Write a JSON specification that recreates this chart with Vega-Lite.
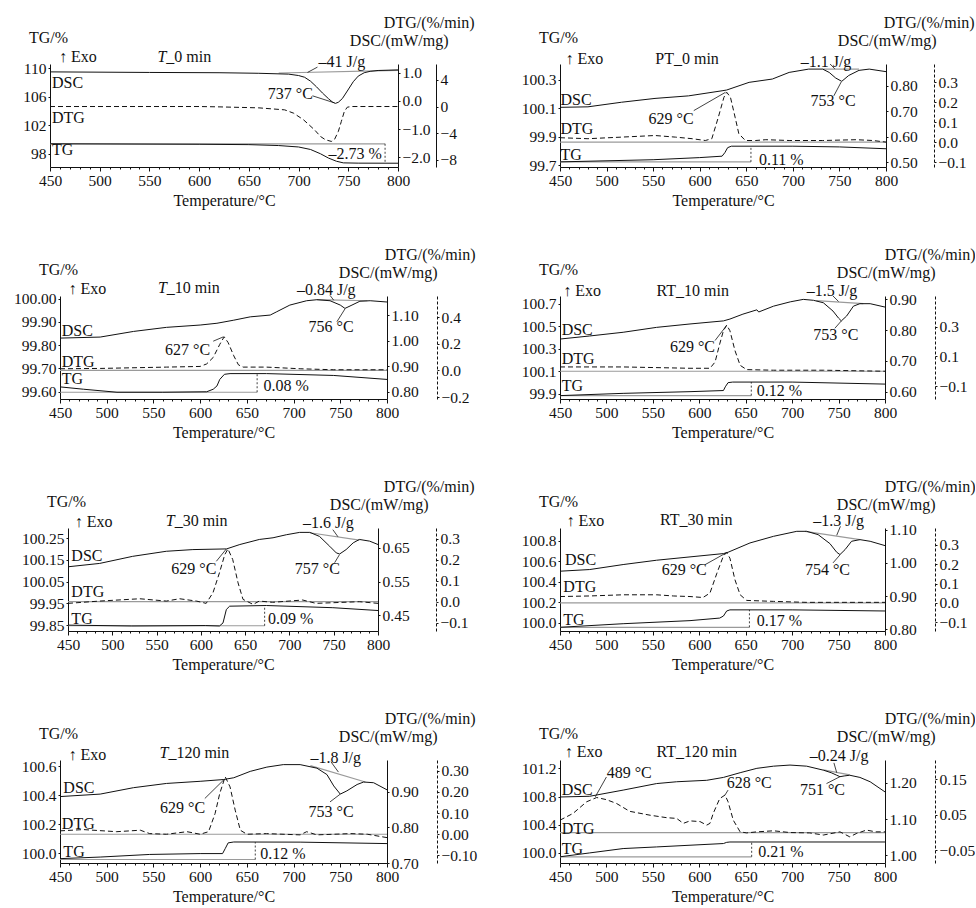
{
  "$schema": "https://vega.github.io/schema/vega-lite/v6.json",
  "background": "white",
  "padding": {"left": 13, "top": 14, "right": 0, "bottom": 0},
  "config": {
    "font": "Liberation Serif",
    "view": {"stroke": null},
    "axis": {"labelFont": "Liberation Serif", "labelFontSize": 15.5, "titleFont": "Liberation Serif", "titleFontSize": 16, "titleFontWeight": "normal", "labelColor": "#111", "titleColor": "#111", "domainColor": "#111", "tickColor": "#111", "grid": false, "labelFlush": false, "labelOverlap": false},
    "axisBottom": {"labelPadding": 2, "titlePadding": 4, "labelExpr": "datum.value % 50 === 0 ? datum.label : ''", "tickSize": {"condition": {"test": "datum.value % 50 === 0", "value": 4}, "value": 2}},
    "axisLeft": {"tickSize": 2, "labelPadding": 2, "titleAngle": 0, "titleX": -2, "titleY": -27, "titleAlign": "center", "titleBaseline": "middle"},
    "axisRight": {"tickSize": 2, "labelPadding": 2, "titleAngle": 0, "titleX": 50, "titleY": -24, "titleAlign": "right", "titleBaseline": "middle"},
    "text": {"font": "Liberation Serif", "fontSize": 16, "baseline": "middle", "color": "#111"},
    "line": {"color": "#111", "strokeWidth": 1}
  },
  "datasets": {
    "p1": [
      {"s":"TG","T":450,"v":99.4},{"s":"TG","T":600,"v":99.33},{"s":"TG","T":650,"v":99.28},{"s":"TG","T":680,"v":99.15},{"s":"TG","T":700,"v":98.95},{"s":"TG","T":712,"v":98.6},{"s":"TG","T":722,"v":98.0},{"s":"TG","T":730,"v":97.4},{"s":"TG","T":738,"v":96.95},{"s":"TG","T":745,"v":96.72},{"s":"TG","T":760,"v":96.68},{"s":"TG","T":800,"v":96.67},
      {"s":"TGref","g":1,"T":450,"v":99.4},{"s":"TGref","g":1,"T":787,"v":99.4},
      {"s":"TGdim","T":787,"v":99.4},{"s":"TGdim","T":787,"v":96.67},
      {"s":"TGtxt","T":452,"v":98.57,"text":"TG"},{"s":"TGtxt","T":730,"v":97.97,"text":"–2.73 %"},{"s":"TGtxt","T":459,"v":111.65,"text":"↑ Exo"},{"s":"TGtxt","T":567,"v":111.65,"text":"_0 min"},{"s":"TGit","T":567,"v":111.65,"text":"T"},
      {"s":"DSC","T":450,"v":1.03},{"s":"DSC","T":550,"v":1.01},{"s":"DSC","T":620,"v":1.0},{"s":"DSC","T":660,"v":0.98},{"s":"DSC","T":690,"v":0.95},{"s":"DSC","T":700,"v":0.9},{"s":"DSC","T":706,"v":0.84},{"s":"DSC","T":712,"v":0.7},{"s":"DSC","T":718,"v":0.5},{"s":"DSC","T":724,"v":0.28},{"s":"DSC","T":730,"v":0.08},{"s":"DSC","T":734,"v":-0.04},{"s":"DSC","T":737,"v":-0.09},{"s":"DSC","T":740,"v":-0.05},{"s":"DSC","T":744,"v":0.08},{"s":"DSC","T":749,"v":0.35},{"s":"DSC","T":755,"v":0.68},{"s":"DSC","T":760,"v":0.88},{"s":"DSC","T":766,"v":1.0},{"s":"DSC","T":772,"v":1.05},{"s":"DSC","T":780,"v":1.08},{"s":"DSC","T":790,"v":1.09},{"s":"DSC","T":800,"v":1.1},
      {"s":"DSCbase","T":680,"v":0.99},{"s":"DSCbase","T":800,"v":1.08},
      {"s":"DSCld","g":1,"T":714,"v":0.18},{"s":"DSCld","g":1,"T":736,"v":-0.07},{"s":"DSCld","g":2,"T":709,"v":1.01},{"s":"DSCld","g":2,"T":719,"v":1.2},
      {"s":"DSCtxt","T":452,"v":0.65,"text":"DSC"},{"s":"DSCtxt","T":669,"v":0.23,"text":"737 °C"},{"s":"DSCtxt","T":720,"v":1.39,"text":"–41 J/g"},
      {"s":"DTG","T":450,"v":0},{"s":"DTG","T":600,"v":0},{"s":"DTG","T":620,"v":-0.05},{"s":"DTG","T":660,"v":-0.2},{"s":"DTG","T":686,"v":-0.5},{"s":"DTG","T":695,"v":-1.0},{"s":"DTG","T":705,"v":-2.0},{"s":"DTG","T":716,"v":-3.5},{"s":"DTG","T":722,"v":-4.5},{"s":"DTG","T":727,"v":-5.0},{"s":"DTG","T":733,"v":-5.25},{"s":"DTG","T":736,"v":-5.0},{"s":"DTG","T":740,"v":-3.75},{"s":"DTG","T":743,"v":-2.25},{"s":"DTG","T":746,"v":-0.75},{"s":"DTG","T":749,"v":-0.1},{"s":"DTG","T":753,"v":0},{"s":"DTG","T":800,"v":0},
      {"s":"DTGtxt","T":452,"v":-1.75,"text":"DTG"}
    ],
    "p2": [
      {"s":"TG","T":450,"v":99.725},{"s":"TG","T":550,"v":99.74},{"s":"TG","T":600,"v":99.755},{"s":"TG","T":624,"v":99.765},{"s":"TG","T":627,"v":99.79},{"s":"TG","T":630,"v":99.825},{"s":"TG","T":634,"v":99.835},{"s":"TG","T":700,"v":99.835},{"s":"TG","T":750,"v":99.83},{"s":"TG","T":800,"v":99.817},
      {"s":"TGref","g":1,"T":450,"v":99.725},{"s":"TGref","g":1,"T":655,"v":99.725},
      {"s":"TGdim","T":655,"v":99.725},{"s":"TGdim","T":655,"v":99.835},
      {"s":"TGtxt","T":450.5,"v":99.77,"text":"TG"},{"s":"TGtxt","T":663.6,"v":99.736,"text":"0.11 %"},{"s":"TGtxt","T":456,"v":100.45,"text":"↑ Exo"},{"s":"TGtxt","T":552.3,"v":100.45,"text":"PT_0 min"},
      {"s":"DSC","T":450,"v":0.715},{"s":"DSC","T":480,"v":0.717},{"s":"DSC","T":516,"v":0.735},{"s":"DSC","T":552,"v":0.75},{"s":"DSC","T":588,"v":0.76},{"s":"DSC","T":624,"v":0.78},{"s":"DSC","T":629,"v":0.783},{"s":"DSC","T":653,"v":0.813},{"s":"DSC","T":678,"v":0.826},{"s":"DSC","T":696,"v":0.852},{"s":"DSC","T":717,"v":0.865},{"s":"DSC","T":732,"v":0.865},{"s":"DSC","T":739,"v":0.852},{"s":"DSC","T":746,"v":0.83},{"s":"DSC","T":752.5,"v":0.817},{"s":"DSC","T":760,"v":0.84},{"s":"DSC","T":771,"v":0.86},{"s":"DSC","T":782,"v":0.865},{"s":"DSC","T":800,"v":0.855},
      {"s":"DSCbase","T":732,"v":0.865},{"s":"DSCbase","T":771,"v":0.865},
      {"s":"DSCld","g":1,"T":744,"v":0.76},{"s":"DSCld","g":1,"T":752,"v":0.815},{"s":"DSCld","g":2,"T":745,"v":0.866},{"s":"DSCld","g":2,"T":740,"v":0.885},
      {"s":"DSCtxt","T":450.5,"v":0.744,"text":"DSC"},{"s":"DSCtxt","T":719,"v":0.741,"text":"753 °C"},{"s":"DSCtxt","T":708.4,"v":0.893,"text":"–1.1 J/g"},
      {"s":"DTG","T":450,"v":0.022},{"s":"DTG","T":480,"v":0.017},{"s":"DTG","T":516,"v":0.025},{"s":"DTG","T":552,"v":0.033},{"s":"DTG","T":574,"v":0.025},{"s":"DTG","T":592,"v":0.017},{"s":"DTG","T":606,"v":0.008},{"s":"DTG","T":613,"v":0.017},{"s":"DTG","T":620,"v":0.125},{"s":"DTG","T":626,"v":0.225},{"s":"DTG","T":629,"v":0.25},{"s":"DTG","T":633,"v":0.225},{"s":"DTG","T":638,"v":0.125},{"s":"DTG","T":642,"v":0.042},{"s":"DTG","T":649,"v":0.008},{"s":"DTG","T":660,"v":0.008},{"s":"DTG","T":671,"v":0.012},{"s":"DTG","T":696,"v":0.008},{"s":"DTG","T":732,"v":0.008},{"s":"DTG","T":768,"v":0.012},{"s":"DTG","T":786,"v":0.008},{"s":"DTG","T":800,"v":0.0},
      {"s":"DTG0","T":450,"v":0},{"s":"DTG0","T":800,"v":0},
      {"s":"DTGld","T":593.6,"v":0.158},{"s":"DTGld","T":627.7,"v":0.25},
      {"s":"DTGtxt","T":450.5,"v":0.067,"text":"DTG"},{"s":"DTGtxt","T":545.1,"v":0.117,"text":"629 °C"}
    ],
    "p3": [
      {"s":"TG","T":450,"v":99.621},{"s":"TG","T":475,"v":99.611},{"s":"TG","T":511,"v":99.598},{"s":"TG","T":560,"v":99.598},{"s":"TG","T":607,"v":99.6},{"s":"TG","T":614,"v":99.611},{"s":"TG","T":618,"v":99.625},{"s":"TG","T":621,"v":99.653},{"s":"TG","T":626,"v":99.675},{"s":"TG","T":632,"v":99.678},{"s":"TG","T":671,"v":99.678},{"s":"TG","T":743,"v":99.67},{"s":"TG","T":800,"v":99.653},
      {"s":"TGref","g":1,"T":450,"v":99.598},{"s":"TGref","g":1,"T":661,"v":99.598},
      {"s":"TGdim","T":661,"v":99.598},{"s":"TGdim","T":661,"v":99.678},
      {"s":"TGtxt","T":451.8,"v":99.654,"text":"TG"},{"s":"TGtxt","T":667.9,"v":99.625,"text":"0.08 %"},{"s":"TGtxt","T":459,"v":100.04,"text":"↑ Exo"},{"s":"TGtxt","T":564.3,"v":100.045,"text":"_10 min"},{"s":"TGit","T":564.3,"v":100.045,"text":"T"},
      {"s":"DSC","T":450,"v":1.01},{"s":"DSC","T":493,"v":1.014},{"s":"DSC","T":528.6,"v":1.036},{"s":"DSC","T":564,"v":1.052},{"s":"DSC","T":600,"v":1.061},{"s":"DSC","T":618,"v":1.068},{"s":"DSC","T":636,"v":1.08},{"s":"DSC","T":653.6,"v":1.093},{"s":"DSC","T":675,"v":1.1},{"s":"DSC","T":682,"v":1.113},{"s":"DSC","T":696,"v":1.139},{"s":"DSC","T":714,"v":1.156},{"s":"DSC","T":725,"v":1.16},{"s":"DSC","T":739,"v":1.156},{"s":"DSC","T":750,"v":1.139},{"s":"DSC","T":755,"v":1.126},{"s":"DSC","T":762.5,"v":1.139},{"s":"DSC","T":771,"v":1.154},{"s":"DSC","T":782,"v":1.156},{"s":"DSC","T":800,"v":1.151},
      {"s":"DSCbase","T":725,"v":1.16},{"s":"DSCbase","T":779,"v":1.156},
      {"s":"DSCld","g":1,"T":746.4,"v":1.074},{"s":"DSCld","g":1,"T":755,"v":1.124},{"s":"DSCld","g":2,"T":743,"v":1.158},{"s":"DSCld","g":2,"T":739,"v":1.177},
      {"s":"DSCtxt","T":451.8,"v":1.036,"text":"DSC"},{"s":"DSCtxt","T":716,"v":1.055,"text":"756 °C"},{"s":"DSCtxt","T":703.6,"v":1.197,"text":"–0.84 J/g"},
      {"s":"DTG","T":450,"v":0.0125},{"s":"DTG","T":493,"v":0.015},{"s":"DTG","T":564,"v":0.025},{"s":"DTG","T":600,"v":0.03},{"s":"DTG","T":607,"v":0.049},{"s":"DTG","T":614,"v":0.098},{"s":"DTG","T":621,"v":0.196},{"s":"DTG","T":625.7,"v":0.253},{"s":"DTG","T":630,"v":0.209},{"s":"DTG","T":636,"v":0.11},{"s":"DTG","T":641,"v":0.042},{"s":"DTG","T":646,"v":0.025},{"s":"DTG","T":671,"v":0.025},{"s":"DTG","T":707,"v":0.0125},{"s":"DTG","T":743,"v":0.005},{"s":"DTG","T":800,"v":0.005},
      {"s":"DTG0","T":450,"v":0},{"s":"DTG0","T":800,"v":0},
      {"s":"DTGld","T":614,"v":0.22},{"s":"DTGld","T":625,"v":0.253},
      {"s":"DTGtxt","T":451.8,"v":0.062,"text":"DTG"},{"s":"DTGtxt","T":562.5,"v":0.154,"text":"627 °C"}
    ],
    "p4": [
      {"s":"TG","T":450,"v":99.885},{"s":"TG","T":518,"v":99.905},{"s":"TG","T":590,"v":99.92},{"s":"TG","T":626,"v":99.93},{"s":"TG","T":628,"v":99.963},{"s":"TG","T":631,"v":100.0},{"s":"TG","T":636,"v":100.005},{"s":"TG","T":700,"v":100.005},{"s":"TG","T":800,"v":99.987},
      {"s":"TGref","g":1,"T":450,"v":99.885},{"s":"TGref","g":1,"T":656,"v":99.885},
      {"s":"TGdim","T":656,"v":99.885},{"s":"TGdim","T":656,"v":100.005},
      {"s":"TGtxt","T":451.8,"v":99.969,"text":"TG"},{"s":"TGtxt","T":661.8,"v":99.928,"text":"0.12 %"},{"s":"TGtxt","T":453.6,"v":100.81,"text":"↑ Exo"},{"s":"TGtxt","T":554,"v":100.81,"text":"RT_10 min"},
      {"s":"DSC","T":450,"v":0.771},{"s":"DSC","T":482,"v":0.781},{"s":"DSC","T":518,"v":0.793},{"s":"DSC","T":554,"v":0.809},{"s":"DSC","T":590,"v":0.82},{"s":"DSC","T":626,"v":0.83},{"s":"DSC","T":633,"v":0.836},{"s":"DSC","T":647,"v":0.852},{"s":"DSC","T":662,"v":0.866},{"s":"DSC","T":664,"v":0.859},{"s":"DSC","T":680,"v":0.878},{"s":"DSC","T":698,"v":0.892},{"s":"DSC","T":712,"v":0.9},{"s":"DSC","T":723,"v":0.897},{"s":"DSC","T":733.6,"v":0.889},{"s":"DSC","T":744,"v":0.862},{"s":"DSC","T":750,"v":0.839},{"s":"DSC","T":753,"v":0.83},{"s":"DSC","T":758.7,"v":0.846},{"s":"DSC","T":766,"v":0.878},{"s":"DSC","T":773,"v":0.886},{"s":"DSC","T":784,"v":0.886},{"s":"DSC","T":800,"v":0.875},
      {"s":"DSCbase","T":726,"v":0.896},{"s":"DSCbase","T":776.6,"v":0.886},
      {"s":"DSCld","g":1,"T":746,"v":0.806},{"s":"DSCld","g":1,"T":753,"v":0.83},{"s":"DSCld","g":2,"T":750,"v":0.893},{"s":"DSCld","g":2,"T":744,"v":0.911},
      {"s":"DSCtxt","T":451.8,"v":0.8,"text":"DSC"},{"s":"DSCtxt","T":722.8,"v":0.785,"text":"753 °C"},{"s":"DSCtxt","T":715.6,"v":0.927,"text":"–1.5 J/g"},
      {"s":"DTG","T":450,"v":0.029},{"s":"DTG","T":518,"v":0.029},{"s":"DTG","T":590,"v":0.02},{"s":"DTG","T":611.5,"v":0.02},{"s":"DTG","T":617,"v":0.062},{"s":"DTG","T":622,"v":0.184},{"s":"DTG","T":626,"v":0.273},{"s":"DTG","T":629.5,"v":0.311},{"s":"DTG","T":633,"v":0.273},{"s":"DTG","T":638.4,"v":0.14},{"s":"DTG","T":644,"v":0.04},{"s":"DTG","T":651,"v":0.011},{"s":"DTG","T":680,"v":0.007},{"s":"DTG","T":734,"v":0.007},{"s":"DTG","T":800,"v":0.0},
      {"s":"DTG0","T":450,"v":0},{"s":"DTG0","T":800,"v":0},
      {"s":"DTGld","T":617,"v":0.207},{"s":"DTGld","T":629,"v":0.305},
      {"s":"DTGtxt","T":451.8,"v":0.085,"text":"DTG"},{"s":"DTGtxt","T":568.4,"v":0.162,"text":"629 °C"}
    ],
    "p5": [
      {"s":"TG","T":450,"v":99.85},{"s":"TG","T":522,"v":99.846},{"s":"TG","T":605,"v":99.848},{"s":"TG","T":621,"v":99.846},{"s":"TG","T":625,"v":99.86},{"s":"TG","T":628.8,"v":99.922},{"s":"TG","T":632.5,"v":99.937},{"s":"TG","T":674,"v":99.94},{"s":"TG","T":749,"v":99.93},{"s":"TG","T":800,"v":99.917},
      {"s":"TGref","g":1,"T":450,"v":99.847},{"s":"TGref","g":1,"T":672,"v":99.847},
      {"s":"TGdim","T":672,"v":99.847},{"s":"TGdim","T":672,"v":99.937},
      {"s":"TGtxt","T":453.8,"v":99.877,"text":"TG"},{"s":"TGtxt","T":675.8,"v":99.876,"text":"0.09 %"},{"s":"TGtxt","T":457.5,"v":100.325,"text":"↑ Exo"},{"s":"TGtxt","T":570.4,"v":100.33,"text":"_30 min"},{"s":"TGit","T":570.4,"v":100.33,"text":"T"},
      {"s":"DSC","T":450,"v":0.594},{"s":"DSC","T":485.8,"v":0.604},{"s":"DSC","T":523,"v":0.625},{"s":"DSC","T":561,"v":0.64},{"s":"DSC","T":591,"v":0.645},{"s":"DSC","T":629,"v":0.647},{"s":"DSC","T":644,"v":0.66},{"s":"DSC","T":666,"v":0.675},{"s":"DSC","T":681.5,"v":0.68},{"s":"DSC","T":696.5,"v":0.689},{"s":"DSC","T":711.6,"v":0.696},{"s":"DSC","T":723,"v":0.696},{"s":"DSC","T":734,"v":0.684},{"s":"DSC","T":745.4,"v":0.655},{"s":"DSC","T":753,"v":0.635},{"s":"DSC","T":756.7,"v":0.632},{"s":"DSC","T":764,"v":0.645},{"s":"DSC","T":772,"v":0.665},{"s":"DSC","T":779,"v":0.675},{"s":"DSC","T":790.6,"v":0.67},{"s":"DSC","T":800,"v":0.66},
      {"s":"DSCbase","T":723,"v":0.695},{"s":"DSCbase","T":779,"v":0.673},
      {"s":"DSCld","g":1,"T":751,"v":0.606},{"s":"DSCld","g":1,"T":756.5,"v":0.63},{"s":"DSCld","g":2,"T":754.8,"v":0.683},{"s":"DSCld","g":2,"T":749,"v":0.704},
      {"s":"DSCtxt","T":453.8,"v":0.625,"text":"DSC"},{"s":"DSCtxt","T":706,"v":0.586,"text":"757 °C"},{"s":"DSCtxt","T":715.3,"v":0.724,"text":"–1.6 J/g"},
      {"s":"DTG","T":450,"v":-0.008},{"s":"DTG","T":485.8,"v":0.003},{"s":"DTG","T":531,"v":0.014},{"s":"DTG","T":561,"v":0.003},{"s":"DTG","T":576,"v":0.014},{"s":"DTG","T":595,"v":0.003},{"s":"DTG","T":606,"v":-0.008},{"s":"DTG","T":613.7,"v":0.043},{"s":"DTG","T":621,"v":0.138},{"s":"DTG","T":627,"v":0.225},{"s":"DTG","T":630.6,"v":0.252},{"s":"DTG","T":636,"v":0.201},{"s":"DTG","T":642,"v":0.09},{"s":"DTG","T":647.6,"v":0.011},{"s":"DTG","T":659,"v":-0.013},{"s":"DTG","T":666,"v":0.003},{"s":"DTG","T":681,"v":-0.003},{"s":"DTG","T":715,"v":0.008},{"s":"DTG","T":730,"v":-0.008},{"s":"DTG","T":779,"v":0.0},{"s":"DTG","T":800,"v":-0.008},
      {"s":"DTG0","T":450,"v":0},{"s":"DTG0","T":800,"v":0},
      {"s":"DTGld","T":617.5,"v":0.193},{"s":"DTGld","T":628.8,"v":0.252},
      {"s":"DTGtxt","T":453.8,"v":0.046,"text":"DTG"},{"s":"DTGtxt","T":566.7,"v":0.154,"text":"629 °C"}
    ],
    "p6": [
      {"s":"TG","T":450,"v":99.955},{"s":"TG","T":518,"v":99.99},{"s":"TG","T":590,"v":100.02},{"s":"TG","T":622,"v":100.045},{"s":"TG","T":626,"v":100.065},{"s":"TG","T":629.5,"v":100.114},{"s":"TG","T":633,"v":100.125},{"s":"TG","T":700,"v":100.125},{"s":"TG","T":800,"v":100.114},
      {"s":"TGref","g":1,"T":450,"v":99.955},{"s":"TGref","g":1,"T":654,"v":99.955},
      {"s":"TGdim","T":654,"v":99.955},{"s":"TGdim","T":654,"v":100.125},
      {"s":"TGtxt","T":453.6,"v":100.03,"text":"TG"},{"s":"TGtxt","T":661.8,"v":100.017,"text":"0.17 %"},{"s":"TGtxt","T":457,"v":100.99,"text":"↑ Exo"},{"s":"TGtxt","T":557.7,"v":101.0,"text":"RT_30 min"},
      {"s":"DSC","T":450,"v":0.975},{"s":"DSC","T":482,"v":0.98},{"s":"DSC","T":518,"v":0.995},{"s":"DSC","T":554,"v":1.008},{"s":"DSC","T":590,"v":1.018},{"s":"DSC","T":626,"v":1.028},{"s":"DSC","T":631,"v":1.032},{"s":"DSC","T":654.6,"v":1.06},{"s":"DSC","T":680,"v":1.08},{"s":"DSC","T":705,"v":1.095},{"s":"DSC","T":715.6,"v":1.095},{"s":"DSC","T":728,"v":1.085},{"s":"DSC","T":740.7,"v":1.058},{"s":"DSC","T":748,"v":1.032},{"s":"DSC","T":751.5,"v":1.025},{"s":"DSC","T":757,"v":1.04},{"s":"DSC","T":764,"v":1.065},{"s":"DSC","T":773,"v":1.07},{"s":"DSC","T":784,"v":1.065},{"s":"DSC","T":800,"v":1.052},
      {"s":"DSCbase","T":714,"v":1.095},{"s":"DSCbase","T":773,"v":1.07},
      {"s":"DSCld","g":1,"T":744,"v":1.0},{"s":"DSCld","g":1,"T":751.5,"v":1.024},{"s":"DSCld","g":2,"T":748,"v":1.083},{"s":"DSCld","g":2,"T":752,"v":1.11},
      {"s":"DSCtxt","T":455.4,"v":1.01,"text":"DSC"},{"s":"DSCtxt","T":713.8,"v":0.98,"text":"754 °C"},{"s":"DSCtxt","T":722.8,"v":1.125,"text":"–1.3 J/g"},
      {"s":"DTG","T":450,"v":0.033},{"s":"DTG","T":482,"v":0.036},{"s":"DTG","T":518,"v":0.042},{"s":"DTG","T":554,"v":0.042},{"s":"DTG","T":572,"v":0.036},{"s":"DTG","T":590,"v":0.033},{"s":"DTG","T":604,"v":0.028},{"s":"DTG","T":611.5,"v":0.051},{"s":"DTG","T":619,"v":0.154},{"s":"DTG","T":626,"v":0.243},{"s":"DTG","T":629.5,"v":0.26},{"s":"DTG","T":633,"v":0.231},{"s":"DTG","T":638.4,"v":0.12},{"s":"DTG","T":644,"v":0.042},{"s":"DTG","T":651,"v":0.013},{"s":"DTG","T":680,"v":0.008},{"s":"DTG","T":715,"v":0.003},{"s":"DTG","T":800,"v":0.003},
      {"s":"DTG0","T":450,"v":0},{"s":"DTG0","T":800,"v":0},
      {"s":"DTGld","T":606,"v":0.197},{"s":"DTGld","T":629.5,"v":0.26},
      {"s":"DTGtxt","T":453.6,"v":0.082,"text":"DTG"},{"s":"DTGtxt","T":559.5,"v":0.171,"text":"629 °C"}
    ],
    "p7": [
      {"s":"TG","T":450,"v":99.961},{"s":"TG","T":493,"v":99.972},{"s":"TG","T":546,"v":99.99},{"s":"TG","T":600,"v":99.996},{"s":"TG","T":624,"v":99.996},{"s":"TG","T":626.8,"v":100.03},{"s":"TG","T":630,"v":100.07},{"s":"TG","T":636,"v":100.076},{"s":"TG","T":707,"v":100.075},{"s":"TG","T":800,"v":100.065},
      {"s":"TGref","g":1,"T":450,"v":99.955},{"s":"TGref","g":1,"T":659,"v":99.955},
      {"s":"TGdim","T":659,"v":99.955},{"s":"TGdim","T":659,"v":100.075},
      {"s":"TGtxt","T":453.6,"v":100.007,"text":"TG"},{"s":"TGtxt","T":664.3,"v":99.996,"text":"0.12 %"},{"s":"TGtxt","T":459,"v":100.675,"text":"↑ Exo"},{"s":"TGtxt","T":566,"v":100.69,"text":"_120 min"},{"s":"TGit","T":566,"v":100.69,"text":"T"},
      {"s":"DSC","T":450,"v":0.887},{"s":"DSC","T":493,"v":0.894},{"s":"DSC","T":528.6,"v":0.912},{"s":"DSC","T":564,"v":0.924},{"s":"DSC","T":600,"v":0.93},{"s":"DSC","T":625,"v":0.935},{"s":"DSC","T":636,"v":0.94},{"s":"DSC","T":653.6,"v":0.958},{"s":"DSC","T":671.4,"v":0.97},{"s":"DSC","T":689,"v":0.977},{"s":"DSC","T":707,"v":0.977},{"s":"DSC","T":725,"v":0.967},{"s":"DSC","T":735.7,"v":0.949},{"s":"DSC","T":743,"v":0.917},{"s":"DSC","T":750,"v":0.894},{"s":"DSC","T":757,"v":0.903},{"s":"DSC","T":768,"v":0.921},{"s":"DSC","T":775,"v":0.928},{"s":"DSC","T":785.7,"v":0.926},{"s":"DSC","T":800,"v":0.906},
      {"s":"DSCbase","T":718,"v":0.974},{"s":"DSCbase","T":776.8,"v":0.928},
      {"s":"DSCld","g":1,"T":739,"v":0.872},{"s":"DSCld","g":1,"T":750,"v":0.894},{"s":"DSCld","g":2,"T":740,"v":0.985},{"s":"DSCld","g":2,"T":748,"v":0.956},
      {"s":"DSCtxt","T":453.6,"v":0.912,"text":"DSC"},{"s":"DSCtxt","T":716,"v":0.845,"text":"753 °C"},{"s":"DSCtxt","T":718,"v":0.995,"text":"–1.8 J/g"},
      {"s":"DTG","T":450,"v":0.016},{"s":"DTG","T":475,"v":0.022},{"s":"DTG","T":510.7,"v":0.012},{"s":"DTG","T":536,"v":0.019},{"s":"DTG","T":546,"v":0.003},{"s":"DTG","T":564,"v":0.0},{"s":"DTG","T":586,"v":0.012},{"s":"DTG","T":600,"v":0.0},{"s":"DTG","T":609,"v":0.012},{"s":"DTG","T":616,"v":0.098},{"s":"DTG","T":621,"v":0.193},{"s":"DTG","T":626.8,"v":0.272},{"s":"DTG","T":632,"v":0.224},{"s":"DTG","T":637.5,"v":0.114},{"s":"DTG","T":643,"v":0.019},{"s":"DTG","T":650,"v":0.0},{"s":"DTG","T":671,"v":0.003},{"s":"DTG","T":707,"v":-0.003},{"s":"DTG","T":714,"v":0.012},{"s":"DTG","T":725,"v":-0.003},{"s":"DTG","T":761,"v":0.003},{"s":"DTG","T":779,"v":0.0},{"s":"DTG","T":800,"v":-0.016},
      {"s":"DTG0","T":450,"v":0},{"s":"DTG0","T":800,"v":0},
      {"s":"DTGld","T":605,"v":0.169},{"s":"DTGld","T":625.7,"v":0.259},
      {"s":"DTGtxt","T":452,"v":0.05,"text":"DTG"},{"s":"DTGtxt","T":557.1,"v":0.122,"text":"629 °C"}
    ],
    "p8": [
      {"s":"TG","T":450,"v":99.945},{"s":"TG","T":482,"v":100.0},{"s":"TG","T":518,"v":100.062},{"s":"TG","T":554,"v":100.085},{"s":"TG","T":590,"v":100.109},{"s":"TG","T":626,"v":100.133},{"s":"TG","T":629.5,"v":100.15},{"s":"TG","T":633,"v":100.155},{"s":"TG","T":800,"v":100.155},
      {"s":"TGref","g":1,"T":450,"v":99.945},{"s":"TGref","g":1,"T":656.4,"v":99.945},
      {"s":"TGdim","T":656.4,"v":99.945},{"s":"TGdim","T":656.4,"v":100.155},
      {"s":"TGtxt","T":451.8,"v":100.062,"text":"TG"},{"s":"TGtxt","T":663.6,"v":100.014,"text":"0.21 %"},{"s":"TGtxt","T":455,"v":101.43,"text":"↑ Exo"},{"s":"TGtxt","T":554,"v":101.436,"text":"RT_120 min"},
      {"s":"DSC","T":450,"v":1.161},{"s":"DSC","T":482,"v":1.163},{"s":"DSC","T":518,"v":1.18},{"s":"DSC","T":554,"v":1.198},{"s":"DSC","T":575.6,"v":1.203},{"s":"DSC","T":608,"v":1.207},{"s":"DSC","T":626,"v":1.215},{"s":"DSC","T":644,"v":1.228},{"s":"DSC","T":662,"v":1.24},{"s":"DSC","T":680,"v":1.246},{"s":"DSC","T":697.7,"v":1.249},{"s":"DSC","T":715.6,"v":1.246},{"s":"DSC","T":733.6,"v":1.235},{"s":"DSC","T":742,"v":1.228},{"s":"DSC","T":748,"v":1.221},{"s":"DSC","T":751.5,"v":1.217},{"s":"DSC","T":756,"v":1.219},{"s":"DSC","T":762,"v":1.221},{"s":"DSC","T":773,"v":1.215},{"s":"DSC","T":784,"v":1.203},{"s":"DSC","T":800,"v":1.175},
      {"s":"DSCbase","T":733.6,"v":1.236},{"s":"DSCbase","T":762,"v":1.222},
      {"s":"DSCld","g":1,"T":737,"v":1.198},{"s":"DSCld","g":1,"T":751.5,"v":1.217},{"s":"DSCld","g":2,"T":745,"v":1.255},{"s":"DSCld","g":2,"T":748,"v":1.228},
      {"s":"DSCtxt","T":451.8,"v":1.18,"text":"DSC"},{"s":"DSCtxt","T":708.4,"v":1.18,"text":"751 °C"},{"s":"DSCtxt","T":719,"v":1.274,"text":"–0.24 J/g"},
      {"s":"DTG","T":450,"v":0.035},{"s":"DTG","T":464,"v":0.054},{"s":"DTG","T":478.7,"v":0.087},{"s":"DTG","T":489.5,"v":0.099},{"s":"DTG","T":500,"v":0.093},{"s":"DTG","T":511,"v":0.082},{"s":"DTG","T":525,"v":0.06},{"s":"DTG","T":547,"v":0.049},{"s":"DTG","T":565,"v":0.042},{"s":"DTG","T":575.6,"v":0.04},{"s":"DTG","T":582.8,"v":0.026},{"s":"DTG","T":590,"v":0.033},{"s":"DTG","T":600.8,"v":0.031},{"s":"DTG","T":608,"v":0.021},{"s":"DTG","T":611.5,"v":0.026},{"s":"DTG","T":615,"v":0.054},{"s":"DTG","T":622,"v":0.096},{"s":"DTG","T":627.7,"v":0.106},{"s":"DTG","T":631,"v":0.087},{"s":"DTG","T":636.6,"v":0.035},{"s":"DTG","T":644,"v":0.002},{"s":"DTG","T":651,"v":-0.001},{"s":"DTG","T":662,"v":0.002},{"s":"DTG","T":680,"v":0.005},{"s":"DTG","T":697.7,"v":0.0},{"s":"DTG","T":719,"v":-0.001},{"s":"DTG","T":733.6,"v":-0.007},{"s":"DTG","T":751.5,"v":0.002},{"s":"DTG","T":762,"v":-0.012},{"s":"DTG","T":769,"v":-0.003},{"s":"DTG","T":780,"v":0.007},{"s":"DTG","T":790,"v":0.002},{"s":"DTG","T":800,"v":0.002},
      {"s":"DTG0","T":450,"v":0},{"s":"DTG0","T":800,"v":0},
      {"s":"DTGld","g":1,"T":500,"v":0.157},{"s":"DTGld","g":1,"T":488,"v":0.101},{"s":"DTGld","g":2,"T":631,"v":0.12},{"s":"DTGld","g":2,"T":627.7,"v":0.106},
      {"s":"DTGtxt","T":451.8,"v":0.009,"text":"DTG"},{"s":"DTGtxt","T":629.5,"v":0.139,"text":"628 °C"},{"s":"DTGtxt","T":500.3,"v":0.169,"text":"489 °C"}
    ]
  },
  "vconcat": [
    {"hconcat": [
      {"width": 10, "height": 103, "data": {"values": [{}]}, "mark": {"type": "point", "opacity": 0}},
      {"width": 348, "height": 103, "data": {"name": "p1"}, "resolve": {"scale": {"y": "independent"}},
       "encoding": {"x": {"field": "T", "type": "quantitative", "scale": {"domain": [450, 800], "nice": false, "zero": false}, "axis": {"values": [450,460,470,480,490,500,510,520,530,540,550,560,570,580,590,600,610,620,630,640,650,660,670,680,690,700,710,720,730,740,750,760,770,780,790,800], "format": "d", "title": "Temperature/°C"}}},
       "layer": [
        {"encoding": {"y": {"field": "v", "type": "quantitative", "scale": {"domain": [96.14, 110.6], "nice": false, "zero": false}, "axis": {"orient": "left", "values": [98,102,106,110], "format": "d", "title": "TG/%"}}},
         "layer": [
          {"transform": [{"filter": "datum.s === 'TGref'"}], "mark": {"type": "line", "color": "#9a9a9a", "strokeWidth": 1.2}, "encoding": {"detail": {"field": "g"}}},
          {"transform": [{"filter": "datum.s === 'TGdim'"}], "mark": {"type": "line", "strokeWidth": 0.8, "strokeDash": [2, 2]}},
          {"transform": [{"filter": "datum.s === 'TG'"}], "mark": {"type": "line"}},
          {"transform": [{"filter": "datum.s === 'TGtxt'"}], "mark": {"type": "text", "align": "left"}, "encoding": {"text": {"field": "text"}}},
          {"transform": [{"filter": "datum.s === 'TGit'"}], "mark": {"type": "text", "align": "right", "fontStyle": "italic"}, "encoding": {"text": {"field": "text"}}}
         ]},
        {"encoding": {"y": {"field": "v", "type": "quantitative", "scale": {"domain": [-2.35, 1.31], "nice": false, "zero": false}, "axis": {"orient": "right", "values": [-2,-1,0,1], "format": ".1f", "title": "DSC/(mW/mg)"}}},
         "layer": [
          {"transform": [{"filter": "datum.s === 'DSCbase'"}], "mark": {"type": "line", "color": "#9a9a9a", "strokeWidth": 1.2}},
          {"transform": [{"filter": "datum.s === 'DSCld'"}], "mark": {"type": "line", "strokeWidth": 0.8}, "encoding": {"detail": {"field": "g"}}},
          {"transform": [{"filter": "datum.s === 'DSC'"}], "mark": {"type": "line"}},
          {"transform": [{"filter": "datum.s === 'DSCtxt'"}], "mark": {"type": "text", "align": "left"}, "encoding": {"text": {"field": "text"}}}
         ]},
        {"encoding": {"y": {"field": "v", "type": "quantitative", "scale": {"domain": [-9.1, 6.4], "nice": false, "zero": false}, "axis": {"orient": "right", "offset": 38, "values": [-8,-4,0,4], "format": "d", "title": "DTG/(%/min)", "titleX": 38, "titleY": -42}}},
         "layer": [
          {"transform": [{"filter": "datum.s === 'DTG0'"}], "mark": {"type": "line", "color": "#9a9a9a", "strokeWidth": 1.2}},
          {"transform": [{"filter": "datum.s === 'DTGld'"}], "mark": {"type": "line", "strokeWidth": 0.8}, "encoding": {"detail": {"field": "g"}}},
          {"transform": [{"filter": "datum.s === 'DTG'"}], "mark": {"type": "line", "strokeDash": [5, 3]}},
          {"transform": [{"filter": "datum.s === 'DTGtxt'"}], "mark": {"type": "text", "align": "left"}, "encoding": {"text": {"field": "text"}}}
         ]}
       ]},
      {"width": 162, "height": 103, "data": {"values": [{}]}, "mark": {"type": "point", "opacity": 0}},
      {"width": 326, "height": 103, "data": {"name": "p2"}, "resolve": {"scale": {"y": "independent"}},
       "encoding": {"x": {"field": "T", "type": "quantitative", "scale": {"domain": [450, 800], "nice": false, "zero": false}, "axis": {"values": [450,460,470,480,490,500,510,520,530,540,550,560,570,580,590,600,610,620,630,640,650,660,670,680,690,700,710,720,730,740,750,760,770,780,790,800], "format": "d", "title": "Temperature/°C"}}},
       "layer": [
        {"encoding": {"y": {"field": "v", "type": "quantitative", "scale": {"domain": [99.689, 100.412], "nice": false, "zero": false}, "axis": {"orient": "left", "values": [99.7,99.9,100.1,100.3], "format": ".1f", "title": "TG/%"}}},
         "layer": [
          {"transform": [{"filter": "datum.s === 'TGref'"}], "mark": {"type": "line", "color": "#9a9a9a", "strokeWidth": 1.2}, "encoding": {"detail": {"field": "g"}}},
          {"transform": [{"filter": "datum.s === 'TGdim'"}], "mark": {"type": "line", "strokeWidth": 0.8, "strokeDash": [2, 2]}},
          {"transform": [{"filter": "datum.s === 'TG'"}], "mark": {"type": "line"}},
          {"transform": [{"filter": "datum.s === 'TGtxt'"}], "mark": {"type": "text", "align": "left"}, "encoding": {"text": {"field": "text"}}}
         ]},
        {"encoding": {"y": {"field": "v", "type": "quantitative", "scale": {"domain": [0.481, 0.885], "nice": false, "zero": false}, "axis": {"orient": "right", "values": [0.5,0.6,0.7,0.8], "format": ".2f", "title": "DSC/(mW/mg)"}}},
         "layer": [
          {"transform": [{"filter": "datum.s === 'DSCbase'"}], "mark": {"type": "line", "color": "#9a9a9a", "strokeWidth": 1.2}},
          {"transform": [{"filter": "datum.s === 'DSCld'"}], "mark": {"type": "line", "strokeWidth": 0.8}, "encoding": {"detail": {"field": "g"}}},
          {"transform": [{"filter": "datum.s === 'DSC'"}], "mark": {"type": "line"}},
          {"transform": [{"filter": "datum.s === 'DSCtxt'"}], "mark": {"type": "text", "align": "left"}, "encoding": {"text": {"field": "text"}}}
         ]},
        {"encoding": {"y": {"field": "v", "type": "quantitative", "scale": {"domain": [-0.125, 0.392], "nice": false, "zero": false}, "axis": {"orient": "right", "offset": 48, "domainDash": [3, 2], "values": [-0.1,0,0.1,0.2,0.3], "format": ".1f", "title": "DTG/(%/min)", "titleX": 40, "titleY": -42}}},
         "layer": [
          {"transform": [{"filter": "datum.s === 'DTG0'"}], "mark": {"type": "line", "color": "#9a9a9a", "strokeWidth": 1.2}},
          {"transform": [{"filter": "datum.s === 'DTGld'"}], "mark": {"type": "line", "strokeWidth": 0.8}, "encoding": {"detail": {"field": "g"}}},
          {"transform": [{"filter": "datum.s === 'DTG'"}], "mark": {"type": "line", "strokeDash": [5, 3]}},
          {"transform": [{"filter": "datum.s === 'DTGtxt'"}], "mark": {"type": "text", "align": "left"}, "encoding": {"text": {"field": "text"}}}
         ]}
       ]}
    ], "spacing": 0, "bounds": "flush"},
    {"hconcat": [
      {"width": 20, "height": 103, "data": {"values": [{}]}, "mark": {"type": "point", "opacity": 0}},
      {"width": 327, "height": 103, "data": {"name": "p3"}, "resolve": {"scale": {"y": "independent"}},
       "encoding": {"x": {"field": "T", "type": "quantitative", "scale": {"domain": [450, 800], "nice": false, "zero": false}, "axis": {"values": [450,460,470,480,490,500,510,520,530,540,550,560,570,580,590,600,610,620,630,640,650,660,670,680,690,700,710,720,730,740,750,760,770,780,790,800], "format": "d", "title": "Temperature/°C"}}},
       "layer": [
        {"encoding": {"y": {"field": "v", "type": "quantitative", "scale": {"domain": [99.569, 100.011], "nice": false, "zero": false}, "axis": {"orient": "left", "values": [99.6,99.7,99.8,99.9,100], "format": ".2f", "title": "TG/%"}}},
         "layer": [
          {"transform": [{"filter": "datum.s === 'TGref'"}], "mark": {"type": "line", "color": "#9a9a9a", "strokeWidth": 1.2}, "encoding": {"detail": {"field": "g"}}},
          {"transform": [{"filter": "datum.s === 'TGdim'"}], "mark": {"type": "line", "strokeWidth": 0.8, "strokeDash": [2, 2]}},
          {"transform": [{"filter": "datum.s === 'TG'"}], "mark": {"type": "line"}},
          {"transform": [{"filter": "datum.s === 'TGtxt'"}], "mark": {"type": "text", "align": "left"}, "encoding": {"text": {"field": "text"}}},
          {"transform": [{"filter": "datum.s === 'TGit'"}], "mark": {"type": "text", "align": "right", "fontStyle": "italic"}, "encoding": {"text": {"field": "text"}}}
         ]},
        {"encoding": {"y": {"field": "v", "type": "quantitative", "scale": {"domain": [0.772, 1.1745], "nice": false, "zero": false}, "axis": {"orient": "right", "values": [0.8,0.9,1.0,1.1], "format": ".2f", "title": "DSC/(mW/mg)"}}},
         "layer": [
          {"transform": [{"filter": "datum.s === 'DSCbase'"}], "mark": {"type": "line", "color": "#9a9a9a", "strokeWidth": 1.2}},
          {"transform": [{"filter": "datum.s === 'DSCld'"}], "mark": {"type": "line", "strokeWidth": 0.8}, "encoding": {"detail": {"field": "g"}}},
          {"transform": [{"filter": "datum.s === 'DSC'"}], "mark": {"type": "line"}},
          {"transform": [{"filter": "datum.s === 'DSCtxt'"}], "mark": {"type": "text", "align": "left"}, "encoding": {"text": {"field": "text"}}}
         ]},
        {"encoding": {"y": {"field": "v", "type": "quantitative", "scale": {"domain": [-0.215, 0.56], "nice": false, "zero": false}, "axis": {"orient": "right", "offset": 50, "domainDash": [3, 2], "values": [-0.2,0,0.2,0.4], "format": ".1f", "title": "DTG/(%/min)", "titleX": 38, "titleY": -42}}},
         "layer": [
          {"transform": [{"filter": "datum.s === 'DTG0'"}], "mark": {"type": "line", "color": "#9a9a9a", "strokeWidth": 1.2}},
          {"transform": [{"filter": "datum.s === 'DTGld'"}], "mark": {"type": "line", "strokeWidth": 0.8}, "encoding": {"detail": {"field": "g"}}},
          {"transform": [{"filter": "datum.s === 'DTG'"}], "mark": {"type": "line", "strokeDash": [5, 3]}},
          {"transform": [{"filter": "datum.s === 'DTGtxt'"}], "mark": {"type": "text", "align": "left"}, "encoding": {"text": {"field": "text"}}}
         ]}
       ]},
      {"width": 173, "height": 103, "data": {"values": [{}]}, "mark": {"type": "point", "opacity": 0}},
      {"width": 325, "height": 103, "data": {"name": "p4"}, "resolve": {"scale": {"y": "independent"}},
       "encoding": {"x": {"field": "T", "type": "quantitative", "scale": {"domain": [450, 800], "nice": false, "zero": false}, "axis": {"values": [450,460,470,480,490,500,510,520,530,540,550,560,570,580,590,600,610,620,630,640,650,660,670,680,690,700,710,720,730,740,750,760,770,780,790,800], "format": "d", "title": "Temperature/°C"}}},
       "layer": [
        {"encoding": {"y": {"field": "v", "type": "quantitative", "scale": {"domain": [99.855, 100.768], "nice": false, "zero": false}, "axis": {"orient": "left", "values": [99.9,100.1,100.3,100.5,100.7], "format": ".1f", "title": "TG/%"}}},
         "layer": [
          {"transform": [{"filter": "datum.s === 'TGref'"}], "mark": {"type": "line", "color": "#9a9a9a", "strokeWidth": 1.2}, "encoding": {"detail": {"field": "g"}}},
          {"transform": [{"filter": "datum.s === 'TGdim'"}], "mark": {"type": "line", "strokeWidth": 0.8, "strokeDash": [2, 2]}},
          {"transform": [{"filter": "datum.s === 'TG'"}], "mark": {"type": "line"}},
          {"transform": [{"filter": "datum.s === 'TGtxt'"}], "mark": {"type": "text", "align": "left"}, "encoding": {"text": {"field": "text"}}}
         ]},
        {"encoding": {"y": {"field": "v", "type": "quantitative", "scale": {"domain": [0.576, 0.911], "nice": false, "zero": false}, "axis": {"orient": "right", "values": [0.6,0.7,0.8,0.9], "format": ".2f", "title": "DSC/(mW/mg)"}}},
         "layer": [
          {"transform": [{"filter": "datum.s === 'DSCbase'"}], "mark": {"type": "line", "color": "#9a9a9a", "strokeWidth": 1.2}},
          {"transform": [{"filter": "datum.s === 'DSCld'"}], "mark": {"type": "line", "strokeWidth": 0.8}, "encoding": {"detail": {"field": "g"}}},
          {"transform": [{"filter": "datum.s === 'DSC'"}], "mark": {"type": "line"}},
          {"transform": [{"filter": "datum.s === 'DSCtxt'"}], "mark": {"type": "text", "align": "left"}, "encoding": {"text": {"field": "text"}}}
         ]},
        {"encoding": {"y": {"field": "v", "type": "quantitative", "scale": {"domain": [-0.187, 0.507], "nice": false, "zero": false}, "axis": {"orient": "right", "offset": 50, "domainDash": [3, 2], "values": [-0.1,0.1,0.3], "format": ".1f", "title": "DTG/(%/min)", "titleX": 40, "titleY": -42}}},
         "layer": [
          {"transform": [{"filter": "datum.s === 'DTG0'"}], "mark": {"type": "line", "color": "#9a9a9a", "strokeWidth": 1.2}},
          {"transform": [{"filter": "datum.s === 'DTGld'"}], "mark": {"type": "line", "strokeWidth": 0.8}, "encoding": {"detail": {"field": "g"}}},
          {"transform": [{"filter": "datum.s === 'DTG'"}], "mark": {"type": "line", "strokeDash": [5, 3]}},
          {"transform": [{"filter": "datum.s === 'DTGtxt'"}], "mark": {"type": "text", "align": "left"}, "encoding": {"text": {"field": "text"}}}
         ]}
       ]}
    ], "spacing": 0, "bounds": "flush"},
    {"hconcat": [
      {"width": 28, "height": 103, "data": {"values": [{}]}, "mark": {"type": "point", "opacity": 0}},
      {"width": 310, "height": 103, "data": {"name": "p5"}, "resolve": {"scale": {"y": "independent"}},
       "encoding": {"x": {"field": "T", "type": "quantitative", "scale": {"domain": [450, 800], "nice": false, "zero": false}, "axis": {"values": [450,460,470,480,490,500,510,520,530,540,550,560,570,580,590,600,610,620,630,640,650,660,670,680,690,700,710,720,730,740,750,760,770,780,790,800], "format": "d", "title": "Temperature/°C"}}},
       "layer": [
        {"encoding": {"y": {"field": "v", "type": "quantitative", "scale": {"domain": [99.823, 100.296], "nice": false, "zero": false}, "axis": {"orient": "left", "values": [99.85,99.95,100.05,100.15,100.25], "format": ".2f", "title": "TG/%"}}},
         "layer": [
          {"transform": [{"filter": "datum.s === 'TGref'"}], "mark": {"type": "line", "color": "#9a9a9a", "strokeWidth": 1.2}, "encoding": {"detail": {"field": "g"}}},
          {"transform": [{"filter": "datum.s === 'TGdim'"}], "mark": {"type": "line", "strokeWidth": 0.8, "strokeDash": [2, 2]}},
          {"transform": [{"filter": "datum.s === 'TG'"}], "mark": {"type": "line"}},
          {"transform": [{"filter": "datum.s === 'TGtxt'"}], "mark": {"type": "text", "align": "left"}, "encoding": {"text": {"field": "text"}}},
          {"transform": [{"filter": "datum.s === 'TGit'"}], "mark": {"type": "text", "align": "right", "fontStyle": "italic"}, "encoding": {"text": {"field": "text"}}}
         ]},
        {"encoding": {"y": {"field": "v", "type": "quantitative", "scale": {"domain": [0.4036, 0.709], "nice": false, "zero": false}, "axis": {"orient": "right", "values": [0.45,0.55,0.65], "format": ".2f", "title": "DSC/(mW/mg)"}}},
         "layer": [
          {"transform": [{"filter": "datum.s === 'DSCbase'"}], "mark": {"type": "line", "color": "#9a9a9a", "strokeWidth": 1.2}},
          {"transform": [{"filter": "datum.s === 'DSCld'"}], "mark": {"type": "line", "strokeWidth": 0.8}, "encoding": {"detail": {"field": "g"}}},
          {"transform": [{"filter": "datum.s === 'DSC'"}], "mark": {"type": "line"}},
          {"transform": [{"filter": "datum.s === 'DSCtxt'"}], "mark": {"type": "text", "align": "left"}, "encoding": {"text": {"field": "text"}}}
         ]},
        {"encoding": {"y": {"field": "v", "type": "quantitative", "scale": {"domain": [-0.14, 0.352], "nice": false, "zero": false}, "axis": {"orient": "right", "offset": 58, "domainDash": [3, 2], "values": [-0.1,0,0.1,0.2,0.3], "format": ".1f", "title": "DTG/(%/min)", "titleX": 38, "titleY": -42}}},
         "layer": [
          {"transform": [{"filter": "datum.s === 'DTG0'"}], "mark": {"type": "line", "color": "#9a9a9a", "strokeWidth": 1.2}},
          {"transform": [{"filter": "datum.s === 'DTGld'"}], "mark": {"type": "line", "strokeWidth": 0.8}, "encoding": {"detail": {"field": "g"}}},
          {"transform": [{"filter": "datum.s === 'DTG'"}], "mark": {"type": "line", "strokeDash": [5, 3]}},
          {"transform": [{"filter": "datum.s === 'DTGtxt'"}], "mark": {"type": "text", "align": "left"}, "encoding": {"text": {"field": "text"}}}
         ]}
       ]},
      {"width": 182, "height": 103, "data": {"values": [{}]}, "mark": {"type": "point", "opacity": 0}},
      {"width": 325, "height": 103, "data": {"name": "p6"}, "resolve": {"scale": {"y": "independent"}},
       "encoding": {"x": {"field": "T", "type": "quantitative", "scale": {"domain": [450, 800], "nice": false, "zero": false}, "axis": {"values": [450,460,470,480,490,500,510,520,530,540,550,560,570,580,590,600,610,620,630,640,650,660,670,680,690,700,710,720,730,740,750,760,770,780,790,800], "format": "d", "title": "Temperature/°C"}}},
       "layer": [
        {"encoding": {"y": {"field": "v", "type": "quantitative", "scale": {"domain": [99.919, 100.923], "nice": false, "zero": false}, "axis": {"orient": "left", "values": [100,100.2,100.4,100.6,100.8], "format": ".1f", "title": "TG/%"}}},
         "layer": [
          {"transform": [{"filter": "datum.s === 'TGref'"}], "mark": {"type": "line", "color": "#9a9a9a", "strokeWidth": 1.2}, "encoding": {"detail": {"field": "g"}}},
          {"transform": [{"filter": "datum.s === 'TGdim'"}], "mark": {"type": "line", "strokeWidth": 0.8, "strokeDash": [2, 2]}},
          {"transform": [{"filter": "datum.s === 'TG'"}], "mark": {"type": "line"}},
          {"transform": [{"filter": "datum.s === 'TGtxt'"}], "mark": {"type": "text", "align": "left"}, "encoding": {"text": {"field": "text"}}}
         ]},
        {"encoding": {"y": {"field": "v", "type": "quantitative", "scale": {"domain": [0.795, 1.105], "nice": false, "zero": false}, "axis": {"orient": "right", "values": [0.8,0.9,1.0,1.1], "format": ".2f", "title": "DSC/(mW/mg)"}}},
         "layer": [
          {"transform": [{"filter": "datum.s === 'DSCbase'"}], "mark": {"type": "line", "color": "#9a9a9a", "strokeWidth": 1.2}},
          {"transform": [{"filter": "datum.s === 'DSCld'"}], "mark": {"type": "line", "strokeWidth": 0.8}, "encoding": {"detail": {"field": "g"}}},
          {"transform": [{"filter": "datum.s === 'DSC'"}], "mark": {"type": "line"}},
          {"transform": [{"filter": "datum.s === 'DSCtxt'"}], "mark": {"type": "text", "align": "left"}, "encoding": {"text": {"field": "text"}}}
         ]},
        {"encoding": {"y": {"field": "v", "type": "quantitative", "scale": {"domain": [-0.145, 0.387], "nice": false, "zero": false}, "axis": {"orient": "right", "offset": 50, "domainDash": [3, 2], "values": [-0.1,0,0.1,0.2,0.3], "format": ".1f", "title": "DTG/(%/min)", "titleX": 40, "titleY": -42}}},
         "layer": [
          {"transform": [{"filter": "datum.s === 'DTG0'"}], "mark": {"type": "line", "color": "#9a9a9a", "strokeWidth": 1.2}},
          {"transform": [{"filter": "datum.s === 'DTGld'"}], "mark": {"type": "line", "strokeWidth": 0.8}, "encoding": {"detail": {"field": "g"}}},
          {"transform": [{"filter": "datum.s === 'DTG'"}], "mark": {"type": "line", "strokeDash": [5, 3]}},
          {"transform": [{"filter": "datum.s === 'DTGtxt'"}], "mark": {"type": "text", "align": "left"}, "encoding": {"text": {"field": "text"}}}
         ]}
       ]}
    ], "spacing": 0, "bounds": "flush"},
    {"hconcat": [
      {"width": 20, "height": 103, "data": {"values": [{}]}, "mark": {"type": "point", "opacity": 0}},
      {"width": 327, "height": 103, "data": {"name": "p7"}, "resolve": {"scale": {"y": "independent"}},
       "encoding": {"x": {"field": "T", "type": "quantitative", "scale": {"domain": [450, 800], "nice": false, "zero": false}, "axis": {"values": [450,460,470,480,490,500,510,520,530,540,550,560,570,580,590,600,610,620,630,640,650,660,670,680,690,700,710,720,730,740,750,760,770,780,790,800], "format": "d", "title": "Temperature/°C"}}},
       "layer": [
        {"encoding": {"y": {"field": "v", "type": "quantitative", "scale": {"domain": [99.931, 100.642], "nice": false, "zero": false}, "axis": {"orient": "left", "values": [100,100.2,100.4,100.6], "format": ".1f", "title": "TG/%"}}},
         "layer": [
          {"transform": [{"filter": "datum.s === 'TGref'"}], "mark": {"type": "line", "color": "#9a9a9a", "strokeWidth": 1.2}, "encoding": {"detail": {"field": "g"}}},
          {"transform": [{"filter": "datum.s === 'TGdim'"}], "mark": {"type": "line", "strokeWidth": 0.8, "strokeDash": [2, 2]}},
          {"transform": [{"filter": "datum.s === 'TG'"}], "mark": {"type": "line"}},
          {"transform": [{"filter": "datum.s === 'TGtxt'"}], "mark": {"type": "text", "align": "left"}, "encoding": {"text": {"field": "text"}}},
          {"transform": [{"filter": "datum.s === 'TGit'"}], "mark": {"type": "text", "align": "right", "fontStyle": "italic"}, "encoding": {"text": {"field": "text"}}}
         ]},
        {"encoding": {"y": {"field": "v", "type": "quantitative", "scale": {"domain": [0.7, 0.99], "nice": false, "zero": false}, "axis": {"orient": "right", "values": [0.7,0.8,0.9], "format": ".2f", "title": "DSC/(mW/mg)"}}},
         "layer": [
          {"transform": [{"filter": "datum.s === 'DSCbase'"}], "mark": {"type": "line", "color": "#9a9a9a", "strokeWidth": 1.2}},
          {"transform": [{"filter": "datum.s === 'DSCld'"}], "mark": {"type": "line", "strokeWidth": 0.8}, "encoding": {"detail": {"field": "g"}}},
          {"transform": [{"filter": "datum.s === 'DSC'"}], "mark": {"type": "line"}},
          {"transform": [{"filter": "datum.s === 'DSCtxt'"}], "mark": {"type": "text", "align": "left"}, "encoding": {"text": {"field": "text"}}}
         ]},
        {"encoding": {"y": {"field": "v", "type": "quantitative", "scale": {"domain": [-0.136, 0.351], "nice": false, "zero": false}, "axis": {"orient": "right", "offset": 50, "domainDash": [3, 2], "values": [-0.1,0,0.1,0.2,0.3], "format": ".2f", "title": "DTG/(%/min)", "titleX": 38, "titleY": -42}}},
         "layer": [
          {"transform": [{"filter": "datum.s === 'DTG0'"}], "mark": {"type": "line", "color": "#9a9a9a", "strokeWidth": 1.2}},
          {"transform": [{"filter": "datum.s === 'DTGld'"}], "mark": {"type": "line", "strokeWidth": 0.8}, "encoding": {"detail": {"field": "g"}}},
          {"transform": [{"filter": "datum.s === 'DTG'"}], "mark": {"type": "line", "strokeDash": [5, 3]}},
          {"transform": [{"filter": "datum.s === 'DTGtxt'"}], "mark": {"type": "text", "align": "left"}, "encoding": {"text": {"field": "text"}}}
         ]}
       ]},
      {"width": 173, "height": 103, "data": {"values": [{}]}, "mark": {"type": "point", "opacity": 0}},
      {"width": 325, "height": 103, "data": {"name": "p8"}, "resolve": {"scale": {"y": "independent"}},
       "encoding": {"x": {"field": "T", "type": "quantitative", "scale": {"domain": [450, 800], "nice": false, "zero": false}, "axis": {"values": [450,460,470,480,490,500,510,520,530,540,550,560,570,580,590,600,610,620,630,640,650,660,670,680,690,700,710,720,730,740,750,760,770,780,790,800], "format": "d", "title": "Temperature/°C"}}},
       "layer": [
        {"encoding": {"y": {"field": "v", "type": "quantitative", "scale": {"domain": [99.857, 101.318], "nice": false, "zero": false}, "axis": {"orient": "left", "values": [100,100.4,100.8,101.2], "format": ".1f", "title": "TG/%"}}},
         "layer": [
          {"transform": [{"filter": "datum.s === 'TGref'"}], "mark": {"type": "line", "color": "#9a9a9a", "strokeWidth": 1.2}, "encoding": {"detail": {"field": "g"}}},
          {"transform": [{"filter": "datum.s === 'TGdim'"}], "mark": {"type": "line", "strokeWidth": 0.8, "strokeDash": [2, 2]}},
          {"transform": [{"filter": "datum.s === 'TG'"}], "mark": {"type": "line"}},
          {"transform": [{"filter": "datum.s === 'TGtxt'"}], "mark": {"type": "text", "align": "left"}, "encoding": {"text": {"field": "text"}}}
         ]},
        {"encoding": {"y": {"field": "v", "type": "quantitative", "scale": {"domain": [0.979, 1.263], "nice": false, "zero": false}, "axis": {"orient": "right", "values": [1.0,1.1,1.2], "format": ".2f", "title": "DSC/(mW/mg)"}}},
         "layer": [
          {"transform": [{"filter": "datum.s === 'DSCbase'"}], "mark": {"type": "line", "color": "#9a9a9a", "strokeWidth": 1.2}},
          {"transform": [{"filter": "datum.s === 'DSCld'"}], "mark": {"type": "line", "strokeWidth": 0.8}, "encoding": {"detail": {"field": "g"}}},
          {"transform": [{"filter": "datum.s === 'DSC'"}], "mark": {"type": "line"}},
          {"transform": [{"filter": "datum.s === 'DSCtxt'"}], "mark": {"type": "text", "align": "left"}, "encoding": {"text": {"field": "text"}}}
         ]},
        {"encoding": {"y": {"field": "v", "type": "quantitative", "scale": {"domain": [-0.086, 0.205], "nice": false, "zero": false}, "axis": {"orient": "right", "offset": 50, "domainDash": [3, 2], "values": [-0.05,0.05,0.15], "format": ".2f", "title": "DTG/(%/min)", "titleX": 40, "titleY": -42}}},
         "layer": [
          {"transform": [{"filter": "datum.s === 'DTG0'"}], "mark": {"type": "line", "color": "#9a9a9a", "strokeWidth": 1.2}},
          {"transform": [{"filter": "datum.s === 'DTGld'"}], "mark": {"type": "line", "strokeWidth": 0.8}, "encoding": {"detail": {"field": "g"}}},
          {"transform": [{"filter": "datum.s === 'DTG'"}], "mark": {"type": "line", "strokeDash": [5, 3]}},
          {"transform": [{"filter": "datum.s === 'DTGtxt'"}], "mark": {"type": "text", "align": "left"}, "encoding": {"text": {"field": "text"}}}
         ]}
       ]}
    ], "spacing": 0, "bounds": "flush"}
  ],
  "spacing": 232,
  "bounds": "flush"
}
